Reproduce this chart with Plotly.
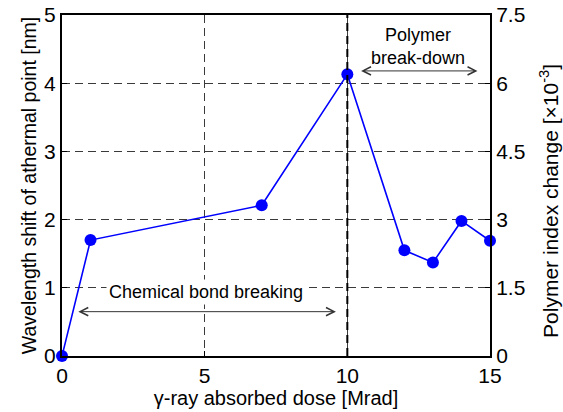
import plotly.graph_objects as go

# Data
dose = [0, 1, 7, 10, 12, 13, 14, 15]
shift_nm = [0.0, 1.70, 2.21, 4.13, 1.55, 1.37, 1.98, 1.69]
x_ticks = [0, 5, 10, 15]
y_ticks = [0, 1, 2, 3, 4, 5]
y2_ticks = [0, 1.5, 3, 4.5, 6, 7.5]
y2_labels = ["0", "1.5", "3", "4.5", "6", "7.5"]
boundary_dose = 10

FONT = "Liberation Sans, Arial, sans-serif"
BLUE = "#0000ff"
GRID = "#3a3a3a"

fig = go.Figure()
fig.add_trace(go.Scatter(
    x=dose, y=shift_nm, mode="lines+markers",
    line=dict(color=BLUE, width=1.6),
    marker=dict(color=BLUE, size=12),
    cliponaxis=False, showlegend=False,
))
# invisible trace to anchor right axis
fig.add_trace(go.Scatter(
    x=[dose[0]], y=[y2_ticks[0]], yaxis="y2", mode="markers",
    marker=dict(opacity=0), showlegend=False, hoverinfo="skip",
))

fig.add_shape(type="line", xref="x", yref="y", x0=boundary_dose, x1=boundary_dose,
              y0=0, y1=5, line=dict(color="black", width=2, dash="8px,5px"))

arrow_style = dict(showarrow=True, arrowhead=5, startarrowhead=5, arrowside="end+start",
                   arrowsize=1.6, startarrowsize=1.6, arrowwidth=1, arrowcolor="#333",
                   axref="x", ayref="y", xref="x", yref="y", text="")
fig.add_annotation(x=9.6, y=0.65, ax=0.52, ay=0.65, **arrow_style)
fig.add_annotation(x=14.56, y=4.18, ax=10.43, ay=4.18, **arrow_style)

fig.add_annotation(x=5.05, y=0.94, xref="x", yref="y", text="Chemical bond breaking",
                   showarrow=False, bgcolor="white", borderpad=2,
                   font=dict(family=FONT, size=18, color="black"))
fig.add_annotation(x=12.46, y=4.54, xref="x", yref="y", text="Polymer<br>break-down",
                   showarrow=False, font=dict(family=FONT, size=18, color="black"))

# right axis title
fig.add_annotation(x=1.138, y=0.455, xref="paper", yref="paper",
                   text="Polymer index change [×10<sup>-3</sup>]", textangle=-90,
                   showarrow=False, xanchor="center", yanchor="middle",
                   font=dict(family=FONT, size=21, color="black"))

axis_common = dict(showline=True, linecolor="black", linewidth=2, ticks="inside",
                   ticklen=5, tickcolor="black", tickwidth=1,
                   tickfont=dict(family=FONT, size=21, color="black"), zeroline=False)

fig.update_layout(
    width=563, height=412,
    margin=dict(l=62, r=73, t=15, b=56),
    paper_bgcolor="white", plot_bgcolor="white",
    xaxis=dict(range=[0, 15], tickvals=x_ticks, mirror=True,
               showgrid=True, gridcolor=GRID, gridwidth=1, griddash="8px,5px",
               title=dict(text="γ-ray absorbed dose [Mrad]", font=dict(family=FONT, size=20, color="black"),
                          standoff=0),
               automargin=False, **axis_common),
    yaxis=dict(range=[0, 5], tickvals=y_ticks,
               showgrid=True, gridcolor=GRID, gridwidth=1, griddash="8px,5px",
               title=dict(text="Wavelength shift of athermal point [nm]",
                          font=dict(family=FONT, size=19.5, color="black"), standoff=2),
               automargin=False, **axis_common),
    yaxis2=dict(range=[0, 7.5], tickvals=y2_ticks, ticktext=y2_labels, overlaying="y",
                side="right", showgrid=False, automargin=False, **axis_common),
)

fig.write_html("out.html")
